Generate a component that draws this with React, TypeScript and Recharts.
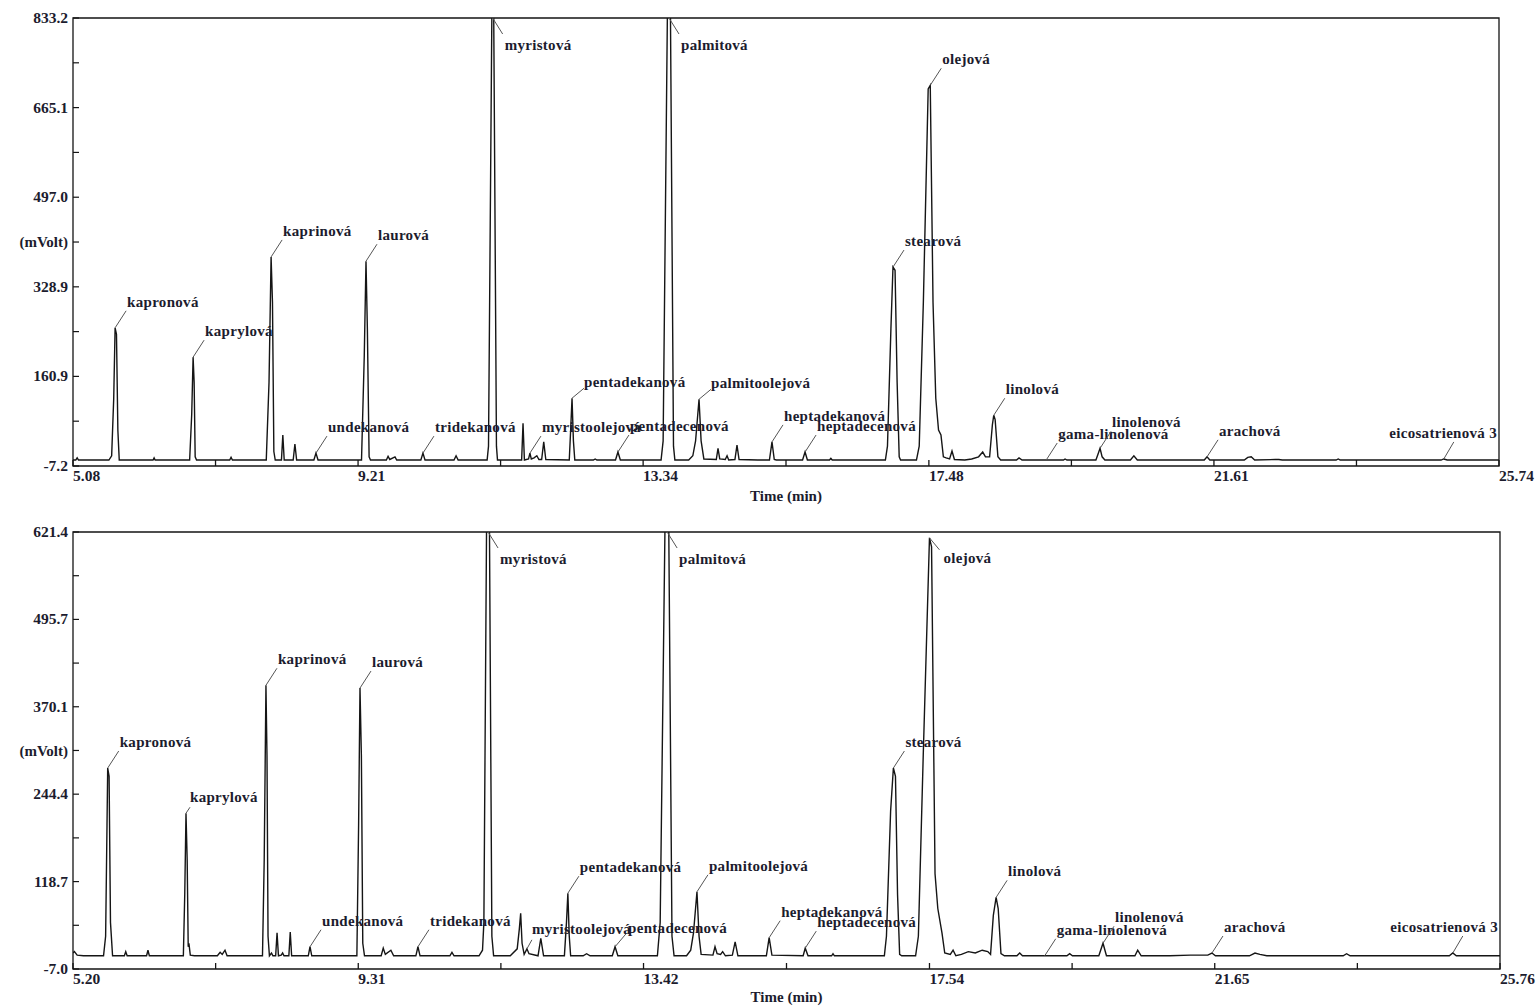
import React from "react";
import { LineChart, Line, XAxis, YAxis, ReferenceDot, ReferenceArea, Label } from "recharts";

type Pt = [number, number];
type Peak = [string, number, number];

// upper chromatogram (time in min, signal in mV)
const topTrace: Pt[] = [
  [5.08, 4], [5.12, 4], [5.14, 8], [5.16, 4],
  [5.6, 4], [5.64, 12], [5.67, 120], [5.69, 252], [5.71, 240], [5.73, 60], [5.75, 4],
  [6.24, 4], [6.255, 8], [6.27, 4],
  [6.77, 4], [6.8, 90], [6.82, 197], [6.835, 150], [6.85, 10], [6.87, 4],
  [7.35, 4], [7.37, 9], [7.39, 4],
  [7.88, 4], [7.92, 150], [7.95, 385], [7.97, 300], [7.99, 20], [8.01, 4],
  [8.1, 4], [8.12, 51], [8.14, 4],
  [8.27, 4], [8.295, 34], [8.32, 4],
  [8.57, 4], [8.6, 17], [8.63, 4],
  [9.26, 4], [9.3, 200], [9.325, 377], [9.345, 250], [9.37, 10], [9.39, 4],
  [9.62, 4], [9.645, 11], [9.67, 5], [9.745, 10], [9.77, 4],
  [10.12, 4], [10.15, 17], [10.18, 4],
  [10.6, 4], [10.63, 12], [10.66, 4],
  [11.08, 4], [11.1, 30], [11.155, 950], [11.17, 950], [11.215, 30], [11.23, 4],
  [11.58, 4], [11.6, 73], [11.62, 4],
  [11.68, 6], [11.7, 17], [11.72, 6], [11.76, 8], [11.8, 12], [11.83, 5],
  [11.87, 5], [11.9, 38], [11.93, 5],
  [12.27, 4], [12.29, 60], [12.31, 120], [12.33, 40], [12.35, 4],
  [12.62, 4], [12.645, 6], [12.67, 4],
  [12.94, 4], [12.975, 19], [13.01, 4],
  [13.6, 4], [13.63, 40], [13.7, 950], [13.73, 950], [13.78, 30], [13.8, 4],
  [14.0, 4], [14.06, 12], [14.1, 40], [14.15, 118], [14.18, 40], [14.22, 6],
  [14.4, 5], [14.425, 26], [14.45, 6], [14.53, 5], [14.556, 12], [14.58, 4],
  [14.67, 5], [14.7, 32], [14.73, 5],
  [15.0, 4], [15.17, 4], [15.207, 38], [15.24, 5], [15.27, 4],
  [15.65, 4], [15.686, 19], [15.72, 4],
  [16.04, 4], [16.06, 7], [16.08, 4],
  [16.85, 4], [16.88, 30], [16.93, 250], [16.96, 366], [16.99, 360], [17.02, 150], [17.05, 10], [17.07, 4],
  [17.3, 4], [17.34, 30], [17.4, 300], [17.47, 700], [17.5, 707], [17.54, 300], [17.58, 120],
  [17.62, 60], [17.655, 51], [17.69, 10], [17.73, 8], [17.78, 6], [17.815, 21], [17.85, 5],
  [18.0, 4], [18.1, 6], [18.2, 10], [18.26, 19], [18.3, 10], [18.36, 10],
  [18.4, 70], [18.42, 88], [18.44, 80], [18.48, 10], [18.52, 4],
  [18.75, 4], [18.786, 8], [18.83, 4], [19.18, 4], [19.43, 4], [19.453, 6], [19.48, 4],
  [19.9, 4], [19.93, 15], [19.96, 26], [19.99, 10], [20.03, 4],
  [20.4, 4], [20.45, 12], [20.5, 4],
  [21.47, 4], [21.51, 10], [21.55, 4],
  [22.05, 4], [22.1, 9], [22.15, 10], [22.2, 4], [22.5, 5], [22.55, 5], [22.6, 4],
  [23.38, 4], [23.41, 6], [23.44, 4],
  [24.9, 4], [24.94, 6], [24.99, 4], [25.74, 4],
];

const topPeaks: Peak[] = [
  ["kapronová", 5.69, 252],
  ["kaprylová", 6.82, 197],
  ["kaprinová", 7.95, 385],
  ["undekanová", 8.6, 17],
  ["laurová", 9.325, 377],
  ["tridekanová", 10.15, 17],
  ["myristová", 11.16, 950],
  ["myristoolejová", 11.7, 17],
  ["pentadekanová", 12.31, 120],
  ["pentadecenová", 12.975, 19],
  ["palmitová", 13.715, 950],
  ["palmitoolejová", 14.15, 118],
  ["heptadekanová", 15.207, 38],
  ["heptadecenová", 15.686, 19],
  ["stearová", 16.96, 366],
  ["olejová", 17.5, 707],
  ["linolová", 18.42, 88],
  ["gama-linolenová", 19.18, 4],
  ["linolenová", 19.96, 26],
  ["arachová", 21.51, 10],
  ["eicosatrienová 3", 24.94, 6],
];

const topXTicks = [5.08, 7.145, 9.21, 11.275, 13.34, 15.41, 17.48, 19.545, 21.61, 23.675, 25.74];
const topXLabels = ["5.08", "", "9.21", "", "13.34", "", "17.48", "", "21.61", "", "25.74"];
const topYTicks = [-7.2, 76.85, 160.9, 244.9, 328.9, 412.95, 497.0, 581.05, 665.1, 749.15, 833.2];
const topYLabels = ["-7.2", "", "160.9", "", "328.9", "", "497.0", "", "665.1", "", "833.2"];

// lower chromatogram
const bottomTrace: Pt[] = [
  [5.2, 16], [5.22, 18], [5.26, 13], [5.35, 12], [5.5, 12],
  [5.64, 12], [5.67, 40], [5.69, 200], [5.7, 282], [5.72, 270], [5.74, 60], [5.77, 12],
  [5.94, 12], [5.96, 18], [5.98, 12],
  [6.26, 12], [6.28, 20], [6.3, 12],
  [6.79, 12], [6.81, 100], [6.828, 217], [6.845, 150], [6.86, 25], [6.87, 30], [6.89, 13], [6.95, 12],
  [7.28, 12], [7.32, 17], [7.35, 14], [7.39, 20], [7.42, 12], [7.6, 12],
  [7.93, 12], [7.955, 150], [7.98, 401], [7.995, 300], [8.01, 40], [8.03, 12], [8.06, 16], [8.08, 12],
  [8.12, 12], [8.14, 45], [8.16, 12], [8.2, 13], [8.22, 16], [8.24, 12],
  [8.31, 12], [8.33, 46], [8.35, 12],
  [8.59, 12], [8.615, 25], [8.64, 12],
  [9.29, 12], [9.315, 200], [9.335, 397], [9.355, 300], [9.375, 30], [9.4, 12],
  [9.64, 12], [9.67, 23], [9.7, 14], [9.78, 20], [9.82, 12],
  [10.14, 12], [10.17, 25], [10.2, 12],
  [10.63, 12], [10.66, 17], [10.69, 12],
  [11.05, 12], [11.1, 20], [11.12, 60], [11.17, 800], [11.19, 800], [11.235, 40], [11.26, 12],
  [11.5, 12], [11.6, 22], [11.63, 50], [11.65, 73], [11.67, 30], [11.7, 14], [11.74, 22], [11.77, 15],
  [11.9, 12], [11.94, 37], [11.98, 12],
  [12.28, 12], [12.31, 60], [12.33, 102], [12.35, 40], [12.37, 12],
  [12.55, 12], [12.6, 15], [12.65, 12],
  [12.97, 12], [13.01, 25], [13.05, 12],
  [13.62, 12], [13.66, 60], [13.75, 800], [13.77, 800], [13.83, 40], [13.86, 12],
  [14.04, 12], [14.1, 20], [14.14, 45], [14.19, 104], [14.22, 40], [14.25, 14],
  [14.42, 13], [14.45, 25], [14.48, 15], [14.53, 14], [14.56, 18], [14.6, 12],
  [14.7, 13], [14.74, 32], [14.78, 12],
  [15.19, 12], [15.23, 38], [15.27, 13],
  [15.72, 12], [15.75, 23], [15.79, 12],
  [16.13, 12], [16.15, 15], [16.17, 12],
  [16.89, 12], [16.92, 40], [16.98, 220], [17.02, 282], [17.05, 270], [17.08, 100], [17.11, 14], [17.14, 12],
  [17.34, 12], [17.38, 40], [17.45, 300], [17.54, 613], [17.57, 600], [17.62, 130], [17.66, 80],
  [17.72, 45], [17.76, 16], [17.84, 14], [17.88, 20], [17.92, 12],
  [18.0, 14], [18.1, 18], [18.2, 16], [18.3, 20], [18.38, 18],
  [18.42, 14], [18.46, 70], [18.5, 96], [18.53, 80], [18.57, 15], [18.62, 12],
  [18.8, 12], [18.84, 16], [18.88, 12],
  [19.2, 12], [19.52, 12], [19.56, 15], [19.6, 12],
  [19.98, 12], [20.04, 30], [20.09, 12],
  [20.5, 12], [20.54, 20], [20.59, 12],
  [21.0, 12], [21.3, 13], [21.55, 13], [21.61, 16], [21.66, 12],
  [22.15, 12], [22.23, 16], [22.3, 14], [22.4, 12],
  [23.0, 12], [23.5, 12], [23.55, 15], [23.6, 12],
  [24.5, 12], [25.03, 12], [25.08, 16], [25.13, 12], [25.76, 12],
];

const bottomPeaks: Peak[] = [
  ["kapronová", 5.7, 282],
  ["kaprylová", 6.828, 217],
  ["kaprinová", 7.98, 401],
  ["undekanová", 8.615, 25],
  ["laurová", 9.335, 397],
  ["tridekanová", 10.17, 25],
  ["myristová", 11.18, 800],
  ["myristoolejová", 11.74, 22],
  ["pentadekanová", 12.33, 102],
  ["pentadecenová", 13.01, 25],
  ["palmitová", 13.76, 800],
  ["palmitoolejová", 14.19, 104],
  ["heptadekanová", 15.23, 38],
  ["heptadecenová", 15.75, 23],
  ["stearová", 17.02, 282],
  ["olejová", 17.54, 613],
  ["linolová", 18.5, 96],
  ["gama-linolenová", 19.2, 12],
  ["linolenová", 20.04, 30],
  ["arachová", 21.61, 16],
  ["eicosatrienová 3", 25.08, 16],
];

const bottomXTicks = [5.2, 7.255, 9.31, 11.365, 13.42, 15.48, 17.54, 19.595, 21.65, 23.705, 25.76];
const bottomXLabels = ["5.20", "", "9.31", "", "13.42", "", "17.54", "", "21.65", "", "25.76"];
const bottomYTicks = [-7.0, 55.85, 118.7, 181.55, 244.4, 307.25, 370.1, 432.9, 495.7, 558.55, 621.4];
const bottomYLabels = ["-7.0", "", "118.7", "", "244.4", "", "370.1", "", "495.7", "", "621.4"];

// how each peak's name tag is placed
const topKinds: Record<string, string> = {
  "myristová": "top",
  "palmitová": "top",
  "pentadekanová": "low",
  "palmitoolejová": "low",
  "eicosatrienová 3": "right",
};
const bottomKinds: Record<string, string> = {
  "kaprylová": "short",
  "myristoolejová": "shortUp",
  "myristová": "top",
  "palmitová": "top",
  "olejová": "topNear",
  "pentadecenová": "mid",
  "eicosatrienová 3": "right",
};

const FONT = '"Liberation Serif", "Times New Roman", serif';
const INK = "#1c1c2e";
const LINE = "#151515";

function PeakMark({ cx, cy, name, kind, right }: any) {
  let lx = cx + 11, ly = cy - 17, tx = cx + 12, ty = cy - 21;
  let anchor = "start";
  if (kind === "top") { lx = cx + 10; ly = cy + 16; tx = cx + 12; ty = cy + 32; }
  else if (kind === "topNear") { lx = cx + 10; ly = cy + 12; tx = cx + 14; ty = cy + 25; }
  else if (kind === "low") { lx = cx + 12; ly = cy - 10; tx = cx + 12; ty = cy - 11; }
  else if (kind === "mid") { lx = cx + 11; ly = cy - 13; tx = cx + 13; ty = cy - 14; }
  else if (kind === "short") { lx = cx + 4; ly = cy - 6; tx = cx + 4; ty = cy - 11; }
  else if (kind === "shortUp") { lx = cx + 5; ly = cy - 9; tx = cx + 5; ty = cy - 15; }
  else if (kind === "right") { lx = cx + 10; ly = cy - 17; tx = right - 2; anchor = "end"; }
  return (
    <g>
      <line x1={cx} y1={cy} x2={lx} y2={ly} stroke="#555" strokeWidth={1} />
      <text x={tx} y={ty} textAnchor={anchor} fill={INK} fontSize={15} fontWeight="bold"
        fontFamily={FONT} letterSpacing={0.3}>
        {name}
      </text>
    </g>
  );
}

interface PanelProps {
  trace: Pt[];
  peaks: Peak[];
  kinds: Record<string, string>;
  xTicks: number[];
  xLabels: string[];
  yTicks: number[];
  yLabels: string[];
  height: number;
  xAxisHeight: number;
  right: number;
}

const Panel: React.FC<PanelProps> = ({
  trace, peaks, kinds, xTicks, xLabels, yTicks, yLabels, height, xAxisHeight, right,
}) => {
  const data = trace.map(([t, v]) => ({ t, v }));
  const xMin = xTicks[0], xMax = xTicks[xTicks.length - 1];
  const yMin = yTicks[0], yMax = yTicks[yTicks.length - 1];

  const xTick = (p: any) => {
    const i = xTicks.indexOf(p.payload.value);
    return (
      <g>
        <line x1={p.x} y1={p.y} x2={p.x} y2={p.y - 6} stroke={LINE} strokeWidth={1.3} />
        {xLabels[i] ? (
          <text x={p.x} y={p.y + 15} textAnchor="start" fill={INK} fontSize={15.5}
            fontWeight="bold" fontFamily={FONT}>
            {xLabels[i]}
          </text>
        ) : null}
      </g>
    );
  };

  const yTick = (p: any) => {
    const i = yTicks.indexOf(p.payload.value);
    return (
      <g>
        <line x1={p.x} y1={p.y} x2={p.x + 6} y2={p.y} stroke={LINE} strokeWidth={1.2} />
        {yLabels[i] ? (
          <text x={p.x - 5} y={p.y + 5} textAnchor="end" fill={INK} fontSize={15.5}
            fontWeight="bold" fontFamily={FONT}>
            {yLabels[i]}
          </text>
        ) : null}
      </g>
    );
  };

  return (
    <LineChart width={1540} height={height} data={data}
      margin={{ top: 18, right: 1540 - right, bottom: 0, left: 0 }}>
      <XAxis dataKey="t" type="number" domain={[xMin, xMax]} allowDataOverflow ticks={xTicks}
        interval={0} tick={xTick} tickSize={0} tickMargin={0} tickLine={false} axisLine={false}
        height={xAxisHeight}>
        <Label value="Time (min)" position="insideBottom" offset={4} fill={INK} fontSize={15}
          fontWeight="bold" fontFamily={FONT} />
      </XAxis>
      <YAxis type="number" domain={[yMin, yMax]} allowDataOverflow ticks={yTicks} interval={0}
        tick={yTick} tickSize={0} tickMargin={0} tickLine={false} axisLine={false} width={73}>
        <Label value="(mVolt)" position="insideRight" offset={5} fill={INK} fontSize={15}
          fontWeight="bold" fontFamily={FONT} />
      </YAxis>
      <ReferenceArea x1={xMin} x2={xMax} y1={yMin} y2={yMax} fill="none" stroke={LINE}
        strokeWidth={1.3} fillOpacity={0} />
      <Line type="linear" dataKey="v" stroke={LINE} strokeWidth={1.4} dot={false}
        isAnimationActive={false} />
      {peaks.map(([name, t, v]) => (
        <ReferenceDot key={name} x={t} y={Math.min(v, yMax)} r={0} ifOverflow="visible"
          shape={(p: any) => (
            <PeakMark cx={p.cx} cy={p.cy} name={name} kind={kinds[name]} right={right} />
          )} />
      ))}
    </LineChart>
  );
};

export default function App() {
  return (
    <div style={{ position: "absolute", left: 0, top: 0, width: 1540, height: 1006, background: "#fff" }}>
      <div style={{ position: "absolute", left: 0, top: 0 }}>
        <Panel trace={topTrace} peaks={topPeaks} kinds={topKinds} xTicks={topXTicks}
          xLabels={topXLabels} yTicks={topYTicks} yLabels={topYLabels} height={505}
          xAxisHeight={39} right={1499} />
      </div>
      <div style={{ position: "absolute", left: 0, top: 514 }}>
        <Panel trace={bottomTrace} peaks={bottomPeaks} kinds={bottomKinds} xTicks={bottomXTicks}
          xLabels={bottomXLabels} yTicks={bottomYTicks} yLabels={bottomYLabels} height={492}
          xAxisHeight={37} right={1500} />
      </div>
    </div>
  );
}
